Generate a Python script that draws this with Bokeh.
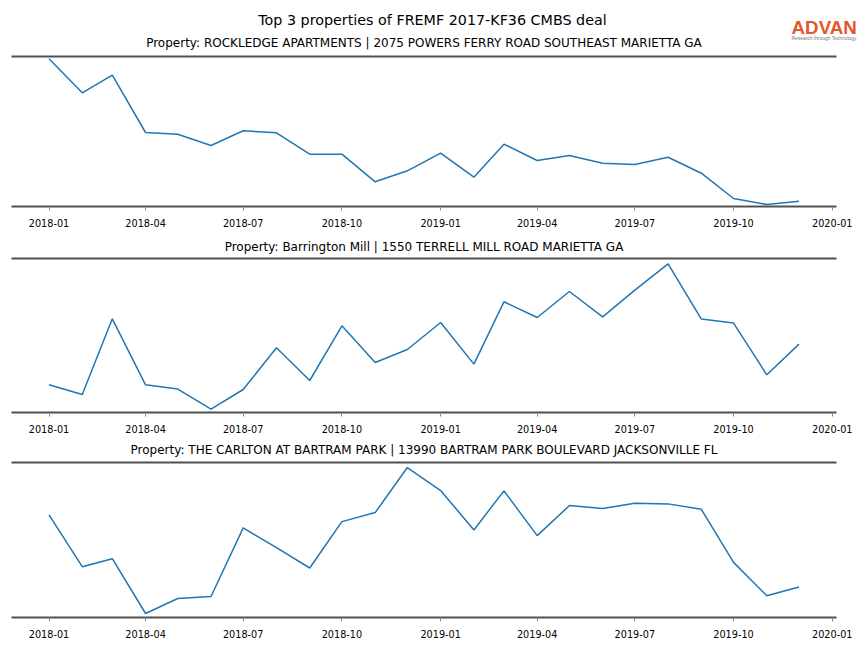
import datetime as dt
from bokeh.plotting import figure
from bokeh.layouts import column
from bokeh.models import Range1d, FixedTicker, DatetimeTickFormatter, ColumnDataSource
from bokeh.embed import file_html
from bokeh.resources import INLINE
from bokeh.core.properties import value

# ---------------- data ----------------
months = ["2018-01", "2018-02", "2018-03", "2018-04", "2018-05", "2018-06",
          "2018-07", "2018-08", "2018-09", "2018-10", "2018-11", "2018-12",
          "2019-01", "2019-02", "2019-03", "2019-04", "2019-05", "2019-06",
          "2019-07", "2019-08", "2019-09", "2019-10", "2019-11", "2019-12"]

rockledge = [147.7, 113.7, 131.3, 74.0, 72.3, 61.0, 75.7, 73.7, 52.3, 52.3, 24.7, 35.7,
             53.3, 29.3, 62.3, 46.0, 51.0, 43.3, 42.0, 49.3, 33.3, 8.0, 2.0, 5.3]
barrington = [27.7, 18.0, 93.7, 27.7, 23.4, 3.4, 23.0, 64.7, 32.0, 86.7, 50.0, 63.0,
              90.0, 48.4, 110.7, 95.0, 121.0, 95.7, 122.4, 148.7, 93.4, 89.4, 37.7, 68.4]
carlton = [102.4, 50.7, 58.7, 4.0, 19.0, 21.0, 89.4, 69.7, 49.4, 95.7, 104.7, 149.7,
           126.7, 87.4, 126.4, 81.7, 111.7, 108.7, 114.0, 113.4, 108.0, 55.0, 21.7, 30.4]

tick_labels = ["2018-01", "2018-04", "2018-07", "2018-10", "2019-01",
               "2019-04", "2019-07", "2019-10", "2020-01"]

main_title = "Top 3 properties of FREMF 2017-KF36 CMBS deal"
panel_titles = [
    "Property: ROCKLEDGE APARTMENTS | 2075 POWERS FERRY ROAD SOUTHEAST MARIETTA GA",
    "Property: Barrington Mill | 1550 TERRELL MILL ROAD MARIETTA GA",
    "Property: THE CARLTON AT BARTRAM PARK | 13990 BARTRAM PARK BOULEVARD JACKSONVILLE FL",
]
series = [rockledge, barrington, carlton]
y_tops = [150.0, 154.0, 154.7]

FONT = "DejaVu Sans"
SPINE = "#505050"
LINE = "#1f77b4"
W = 864

def to_date(s):
    y, m = s.split("-")
    return dt.datetime(int(y), int(m), 1)

dates = [to_date(m) for m in months]
ticks_dt = [to_date(t) for t in tick_labels]
epoch = dt.datetime(1970, 1, 1)
def ms(d):
    return (d - epoch).total_seconds() * 1000.0
ticks_ms = [ms(t) for t in ticks_dt]

# spine extent = data extent + 5% margins (like matplotlib)
span_days = dates[-1] - dates[0]
sp_start = dates[0] - span_days * 0.05
sp_end = dates[-1] + span_days * 0.05
# the spine occupies page x 11 .. 836 of the 864-wide figure
SP_L, SP_R = 11.0, 836.0
AX_C = (SP_L + SP_R) / 2.0
px_per = (SP_R - SP_L) / (sp_end - sp_start).total_seconds()
x_lo = sp_start - dt.timedelta(seconds=SP_L / px_per)
x_hi = sp_end + dt.timedelta(seconds=(W - SP_R) / px_per)

def text_fig(h):
    f = figure(width=W, height=h, output_backend="svg", toolbar_location=None,
               x_range=Range1d(0, W), y_range=Range1d(0, h),
               min_border=0, outline_line_color=None)
    f.axis.visible = False
    f.grid.visible = False
    return f

def title_text(f, x, y, txt, size="12px"):
    f.text(x=[x], y=[y], text=[txt], text_font=value(FONT), text_font_size=size,
           text_align="center", text_baseline="middle", text_color="black")

# ---------------- header (main title, logo, panel-1 title) ----------------
header = text_fig(54)
title_text(header, 432, 35, main_title, "14.3px")
header.text(x=[791], y=[27.5], text=["ADVAN"], text_font=value("Liberation Sans"),
            text_font_size="18.8px", text_align="left", text_baseline="middle",
            text_color="#e4572e", text_font_style="bold")
header.text(x=[791], y=[15.6], text=["Research through Technology"],
            text_font=value("Liberation Sans"), text_font_size="4.9px", text_align="left",
            text_baseline="middle", text_color="#777777")
title_text(header, AX_C, 12, panel_titles[0])

strip2 = text_fig(22)
title_text(strip2, AX_C, 10, panel_titles[1])
strip3 = text_fig(20)
title_text(strip3, AX_C, 10.5, panel_titles[2])

# ---------------- panels ----------------
def panel(vals, ytop, spine_h, bottom):
    fh = spine_h + 2
    p = figure(width=W, height=fh + bottom, output_backend="svg",
               toolbar_location=None, x_axis_type="datetime",
               x_range=Range1d(x_lo, x_hi), y_range=Range1d(0, ytop * fh / spine_h),
               min_border_left=0, min_border_right=0, min_border_top=0,
               min_border_bottom=bottom, y_axis_location=None,
               outline_line_color=None)
    p.grid.visible = False
    src = ColumnDataSource(dict(x=dates, y=vals))
    p.line("x", "y", source=src, line_color=LINE, line_width=1.5)
    # top spine
    p.segment(x0=[sp_start], x1=[sp_end], y0=[ytop], y1=[ytop],
              line_color=SPINE, line_width=2)
    ax = p.xaxis[0]
    ax.bounds = (ms(sp_start), ms(sp_end))
    ax.ticker = FixedTicker(ticks=ticks_ms)
    ax.formatter = DatetimeTickFormatter(days="%Y-%m", months="%Y-%m", years="%Y-%m")
    ax.axis_line_color = SPINE
    ax.axis_line_width = 2
    ax.major_tick_in = 0
    ax.major_tick_out = 4
    ax.major_tick_line_color = "#888888"
    ax.major_tick_line_width = 1
    ax.minor_tick_line_color = None
    ax.major_label_text_font = FONT
    ax.major_label_text_font_size = "9.7px"
    ax.major_label_text_color = "black"
    ax.major_label_standoff = 8
    return p

p1 = panel(rockledge, y_tops[0], 150, 28)
p2 = panel(barrington, y_tops[1], 154, 28)
p3 = panel(carlton, y_tops[2], 155, 26)

layout = column(header, p1, strip2, p2, strip3, p3, spacing=0)
open("out.html", "w").write(file_html(layout, INLINE))
